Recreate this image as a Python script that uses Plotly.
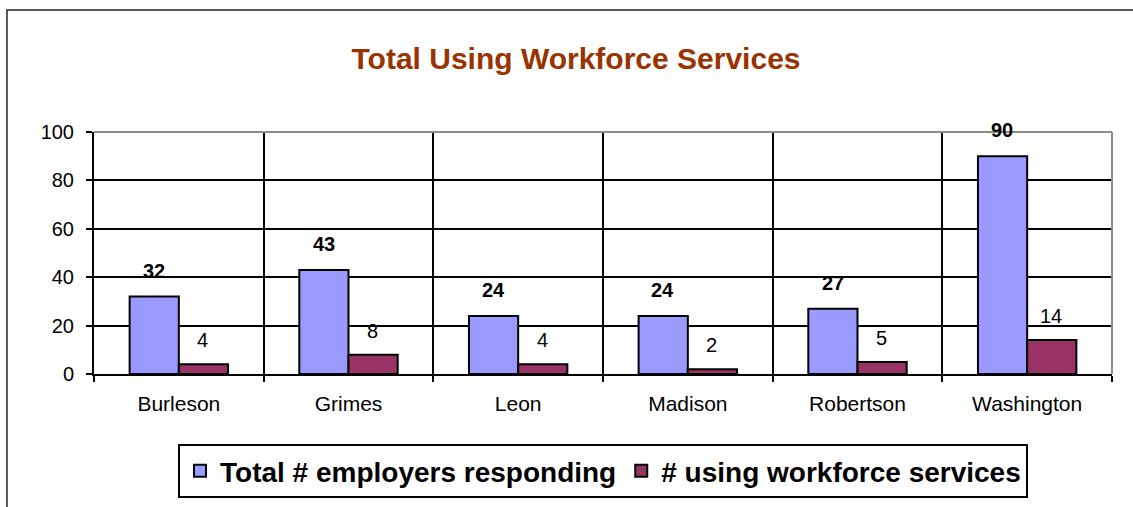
import plotly.graph_objects as go

counties = ["Burleson", "Grimes", "Leon", "Madison", "Robertson", "Washington"]
total_responding = [32, 43, 24, 24, 27, 90]
using_services = [4, 8, 4, 2, 5, 14]
series_names = ["Total # employers responding", "# using workforce services"]
y_ticks = [0, 20, 40, 60, 80, 100]

FONT = "Liberation Sans, Arial, sans-serif"
BLUE = "#9999FF"
MAROON = "#993366"

fig = go.Figure()
fig.add_trace(go.Bar(
    x=counties, y=total_responding, name=series_names[0],
    marker=dict(color=BLUE, line=dict(color="black", width=2)),
))
fig.add_trace(go.Bar(
    x=counties, y=using_services, name=series_names[1],
    marker=dict(color=MAROON, line=dict(color="black", width=2)),
))

# value labels floating above each bar
annotations = []
for c, v in zip(counties, total_responding):
    annotations.append(dict(
        x=c, y=v, xref="x", yref="y", text=f"<b>{v}</b>", showarrow=False,
        xshift=-25, yshift=26, yanchor="middle",
        font=dict(family=FONT, size=20, color="black"),
    ))
for c, v in zip(counties, using_services):
    annotations.append(dict(
        x=c, y=v, xref="x", yref="y", text=str(v), showarrow=False,
        xshift=24, yshift=24, yanchor="middle",
        font=dict(family=FONT, size=20, color="black"),
    ))

shapes = [
    # grey top and right edges of the plot area
    dict(type="line", xref="paper", yref="paper", x0=0, x1=1, y0=1, y1=1,
         line=dict(color="#8c8c8c", width=2), layer="above"),
    dict(type="line", xref="paper", yref="paper", x0=1, x1=1, y0=0, y1=1,
         line=dict(color="#8c8c8c", width=2), layer="above"),
    # outer chart frame
    dict(type="rect", xref="paper", yref="paper",
         x0=-0.0855, x1=1.03, y0=-0.62, y1=1.504,
         line=dict(color="#222222", width=1.5), layer="below"),
]

fig.update_layout(
    width=1133, height=507,
    margin=dict(l=94, r=21, t=132, b=133),
    paper_bgcolor="white", plot_bgcolor="white",
    barmode="group", bargap=0.42, bargroupgap=0,
    font=dict(family=FONT, color="black"),
    title=dict(
        text="<b>Total Using Workforce Services</b>",
        x=576 / 1133, xref="container", xanchor="center",
        y=1 - 58 / 507, yref="container", yanchor="middle",
        font=dict(family=FONT, size=30, color="#993300"),
    ),
    xaxis=dict(
        type="category", tickson="boundaries",
        showgrid=True, gridcolor="black", gridwidth=2,
        showline=True, linecolor="black", linewidth=2,
        ticks="outside", ticklen=6, tickwidth=2, tickcolor="black",
        ticklabelstandoff=10,
        tickfont=dict(family=FONT, size=21, color="black"),
    ),
    yaxis=dict(
        range=[0, 100], tickvals=y_ticks,
        showgrid=True, gridcolor="black", gridwidth=2,
        showline=True, linecolor="black", linewidth=2,
        ticks="outside", ticklen=6, tickwidth=2, tickcolor="black",
        ticklabelstandoff=8, zeroline=False,
        tickfont=dict(family=FONT, size=20, color="black"),
    ),
    legend=dict(
        orientation="h", x=603 / 1133, xref="container", xanchor="center",
        y=1 - 444 / 507, yref="container", yanchor="top",
        bordercolor="black", borderwidth=2, bgcolor="white",
        font=dict(family=FONT, size=28, color="black", weight="bold"),
        itemwidth=30, tracegroupgap=0,
    ),
    annotations=annotations,
    shapes=shapes,
)

fig.write_html("out.html")
